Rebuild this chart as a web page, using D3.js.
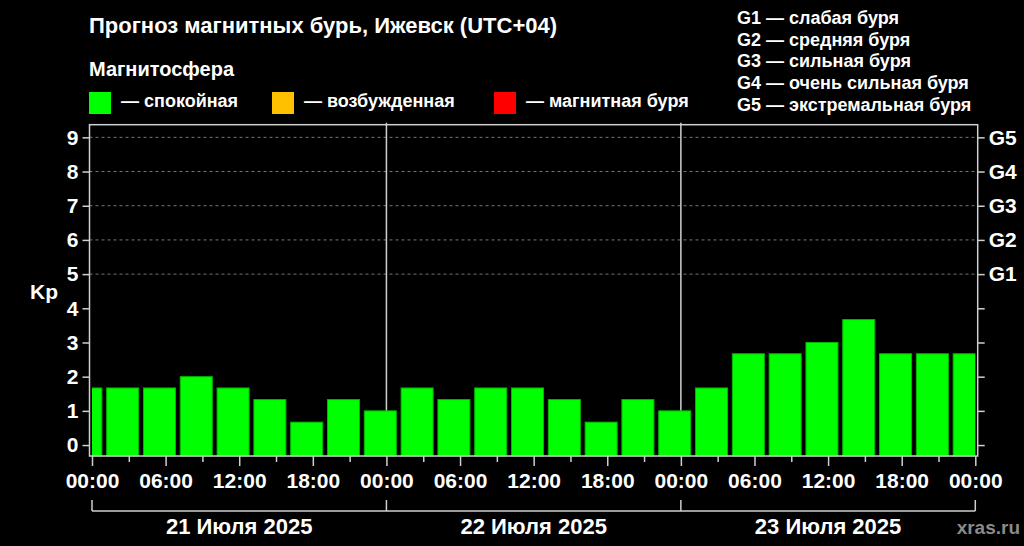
<!DOCTYPE html>
<html>
<head>
<meta charset="utf-8">
<script src="https://cdn.jsdelivr.net/npm/d3@7"></script>
<style>
  body { margin: 0; background: #000; }
  svg { display: block; font-family: "Liberation Sans", Arial, sans-serif; font-weight: bold; }
</style>
</head>
<body>
<svg id="chart" width="1024" height="546"></svg>
<script>
// Kp forecast, 3-hour UTC blocks shown in local time (UTC+04)
const binStarts = [
  "2025-07-20T22:00", "2025-07-21T01:00", "2025-07-21T04:00", "2025-07-21T07:00",
  "2025-07-21T10:00", "2025-07-21T13:00", "2025-07-21T16:00", "2025-07-21T19:00",
  "2025-07-21T22:00", "2025-07-22T01:00", "2025-07-22T04:00", "2025-07-22T07:00",
  "2025-07-22T10:00", "2025-07-22T13:00", "2025-07-22T16:00", "2025-07-22T19:00",
  "2025-07-22T22:00", "2025-07-23T01:00", "2025-07-23T04:00", "2025-07-23T07:00",
  "2025-07-23T10:00", "2025-07-23T13:00", "2025-07-23T16:00", "2025-07-23T19:00",
  "2025-07-23T22:00"
];
const kpValues = [
  1.67, 1.67, 1.67, 2.0, 1.67, 1.33, 0.67, 1.33, 1.0,
  1.67, 1.33, 1.67, 1.67, 1.33, 0.67, 1.33, 1.0,
  1.67, 2.67, 2.67, 3.0, 3.67, 2.67, 2.67, 2.67
];
const dayStarts = ["2025-07-21T00:00", "2025-07-22T00:00", "2025-07-23T00:00", "2025-07-24T00:00"];
const dayLabels = ["21 Июля 2025", "22 Июля 2025", "23 Июля 2025"];
const kpTicks = [0, 1, 2, 3, 4, 5, 6, 7, 8, 9];
const gLabels = {5: "G1", 6: "G2", 7: "G3", 8: "G4", 9: "G5"};
const stormLegend = ["G1 — слабая буря", "G2 — средняя буря", "G3 — сильная буря", "G4 — очень сильная буря", "G5 — экстремальная буря"];
const stateLegend = [
  {label: "— спокойная", color: "#00ff00"},
  {label: "— возбужденная", color: "#ffc000"},
  {label: "— магнитная буря", color: "#ff0000"}
];

const parse = d3.timeParse("%Y-%m-%dT%H:%M");
const svg = d3.select("#chart");
const frameColor = "#cfcfcf";

const t0 = parse(dayStarts[0]), t1 = parse(dayStarts[dayStarts.length - 1]);
const x = d3.scaleTime().domain([t0, t1]).range([92, 975.3]);
const y = d3.scaleLinear().domain([-0.32, 9.37]).range([456, 124.7]);
const plotL = 89.5, plotR = 977.7, plotT = y(9.37), plotB = y(-0.32);

// titles
svg.append("text").attr("x", 89).attr("y", 33).attr("fill", "#fff")
  .attr("font-size", 22).text("Прогноз магнитных бурь, Ижевск (UTC+04)");
svg.append("text").attr("x", 89).attr("y", 76).attr("fill", "#fff")
  .attr("font-size", 20).text("Магнитосфера");

// state legend
const lx = [89, 272, 494];
const leg = svg.selectAll(".leg").data(stateLegend).enter().append("g")
  .attr("class", "leg").attr("transform", (d, i) => `translate(${lx[i]},92)`);
leg.append("rect").attr("width", 22).attr("height", 22).attr("fill", d => d.color);
leg.append("text").attr("x", 32).attr("y", 15).attr("fill", "#fff")
  .attr("font-size", 18).text(d => d.label);

// storm legend
svg.selectAll(".gleg").data(stormLegend).enter().append("text")
  .attr("class", "gleg").attr("x", 737).attr("y", (d, i) => 24 + i * 21.7)
  .attr("fill", "#fff").attr("font-size", 18).text(d => d);

// grid lines at storm levels
svg.append("g").selectAll("line").data(kpTicks.filter(d => d >= 5)).enter().append("line")
  .attr("x1", plotL).attr("x2", plotR).attr("y1", d => y(d)).attr("y2", d => y(d))
  .attr("stroke", "#777").attr("stroke-width", 1).attr("stroke-dasharray", "3,3");

// day separators
svg.append("g").selectAll("line").data(dayStarts.slice(1, -1)).enter().append("line")
  .attr("x1", d => x(parse(d))).attr("x2", d => x(parse(d)))
  .attr("y1", plotT - 2).attr("y2", plotB)
  .attr("stroke", frameColor).attr("stroke-width", 1.5);

// bars
svg.append("clipPath").attr("id", "clip").append("rect")
  .attr("x", x(t0)).attr("y", 0).attr("width", x(t1) - x(t0)).attr("height", 546);
const bins = binStarts.map((s, i) => ({start: parse(s), end: d3.timeHour.offset(parse(s), 3), kp: kpValues[i]}));
svg.append("g").attr("clip-path", "url(#clip)").selectAll("rect").data(bins).enter().append("rect")
  .attr("x", d => x(d.start) + 2.4)
  .attr("width", d => x(d.end) - x(d.start) - 4.8)
  .attr("y", d => y(d.kp))
  .attr("height", d => y(-0.32) - y(d.kp))
  .attr("fill", "#00ff00").attr("stroke", "#00b800").attr("stroke-width", 1);

// frame
svg.append("rect").attr("x", plotL).attr("y", plotT).attr("width", plotR - plotL).attr("height", plotB - plotT)
  .attr("fill", "none").attr("stroke", frameColor).attr("stroke-width", 1.5);

// left axis
const yLeft = svg.append("g").attr("transform", `translate(${plotL},0)`)
  .call(d3.axisLeft(y).tickValues(kpTicks).tickSize(7).tickPadding(4));
yLeft.select(".domain").remove();
yLeft.selectAll("line").attr("stroke", frameColor).attr("stroke-width", 1.5);
yLeft.selectAll("text").attr("fill", "#fff").attr("font-size", 21).attr("font-family", "Liberation Sans").attr("font-weight", "bold");

svg.append("text").attr("x", 44).attr("y", y(4.5)).attr("dy", "0.35em").attr("text-anchor", "middle")
  .attr("fill", "#fff").attr("font-size", 21).text("Kp");

// right axis (storm levels)
const yRight = svg.append("g").attr("transform", `translate(${plotR},0)`)
  .call(d3.axisRight(y).tickValues(kpTicks).tickSize(7).tickPadding(4).tickFormat(d => gLabels[d] || ""));
yRight.select(".domain").remove();
yRight.selectAll("line").attr("stroke", frameColor).attr("stroke-width", 1.5);
yRight.selectAll("text").attr("fill", "#fff").attr("font-size", 21).attr("font-family", "Liberation Sans").attr("font-weight", "bold");

// bottom axis: 3h ticks, labels every 6h
const hourTicks = d3.timeHour.every(3).range(t0, d3.timeHour.offset(t1, 1));
const xAxis = svg.append("g").attr("transform", `translate(0,${plotB})`)
  .call(d3.axisBottom(x).tickValues(hourTicks).tickSize(6).tickPadding(8)
    .tickFormat(d => d.getHours() % 6 === 0 ? d3.timeFormat("%H:%M")(d) : ""));
xAxis.select(".domain").remove();
xAxis.selectAll("line").attr("stroke", frameColor).attr("stroke-width", 1.5)
  .attr("y2", d => d.getHours() % 6 === 0 ? 10 : 6);
xAxis.selectAll("text").attr("fill", "#fff").attr("font-size", 21).attr("font-family", "Liberation Sans").attr("font-weight", "bold")
  .attr("y", 17);

// day brackets
const br = svg.append("g");
br.append("line").attr("x1", x(t0)).attr("x2", x(t1)).attr("y1", 511).attr("y2", 511)
  .attr("stroke", frameColor).attr("stroke-width", 1.5);
br.selectAll(".tk").data(dayStarts).enter().append("line")
  .attr("x1", d => x(parse(d))).attr("x2", d => x(parse(d))).attr("y1", 500).attr("y2", 511)
  .attr("stroke", frameColor).attr("stroke-width", 1.5);
br.selectAll(".dl").data(dayLabels).enter().append("text")
  .attr("x", (d, i) => (x(parse(dayStarts[i])) + x(parse(dayStarts[i + 1]))) / 2)
  .attr("y", 534).attr("text-anchor", "middle").attr("fill", "#fff").attr("font-size", 22).text(d => d);

svg.append("text").attr("x", 1020).attr("y", 534).attr("text-anchor", "end")
  .attr("fill", "#8a8a8a").attr("font-size", 19).text("xras.ru");
</script>
</body>
</html>
